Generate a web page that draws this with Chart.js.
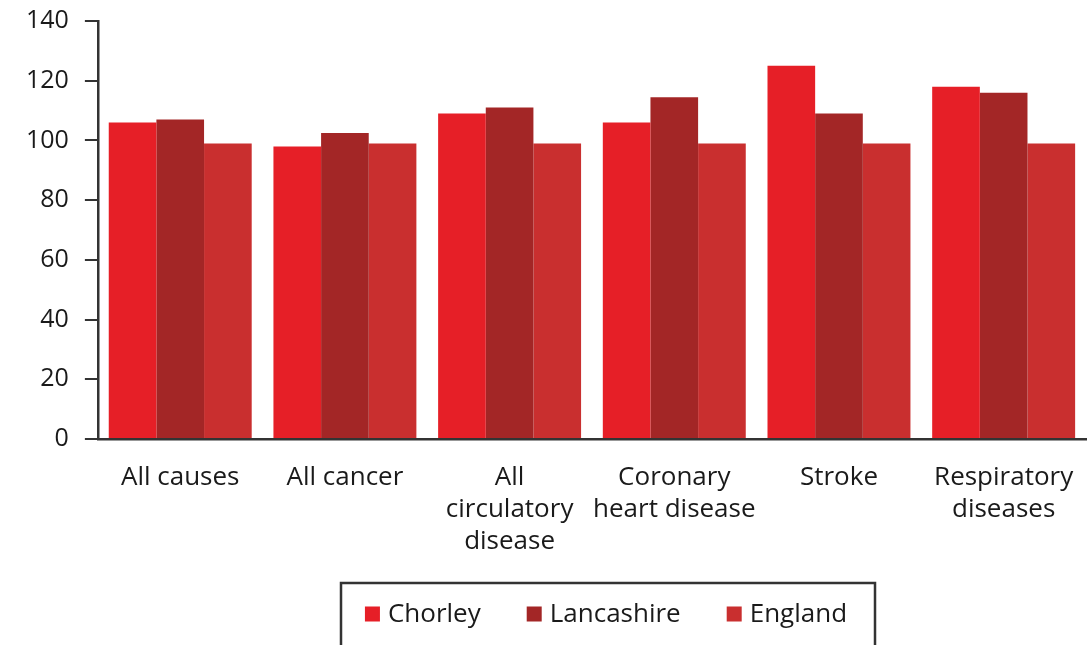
<!DOCTYPE html>
<html>
<head>
<meta charset="utf-8">
<script src="https://cdn.jsdelivr.net/npm/chart.js@4/dist/chart.umd.min.js"></script>
<style>
  html, body { margin: 0; padding: 0; background: #fff; }
  #wrap { width: 1090px; height: 645px; }
</style>
</head>
<body>
<div id="wrap"><canvas id="mortalityChart" width="1090" height="645"></canvas></div>
<script>
const categories = [
    'All causes',
    'All cancer',
    ['All', 'circulatory', 'disease'],
    ['Coronary', 'heart disease'],
    'Stroke',
    ['Respiratory', 'diseases']
];
const chorley = [106, 98, 109, 106, 125, 118];
const lancashire = [107, 102.5, 111, 114.5, 109, 116];
const england = [99, 99, 99, 99, 99, 99];
const yTicks = [0, 20, 40, 60, 80, 100, 120, 140];

const seriesNames = ['Chorley', 'Lancashire', 'England'];
const seriesColors = ['#E61F27', '#A32626', '#C92F2F'];

const FONT = "'Open Sans', sans-serif";
const AXIS = '#333333';

// legend drawn by hand inside a framed box under the axis labels
const boxedLegend = {
    id: 'boxedLegend',
    afterDraw(chart) {
        const ctx = chart.ctx;
        ctx.save();
        ctx.strokeStyle = AXIS;
        ctx.lineWidth = 2.5;
        ctx.strokeRect(341, 583, 534, 100);

        ctx.font = '26px ' + FONT;
        ctx.textBaseline = 'middle';
        const sq = 15, gap = 8, spacing = 46;
        const widths = seriesNames.map(n => ctx.measureText(n).width);
        const total = widths.reduce((a, w) => a + sq + gap + w, 0) + spacing * (seriesNames.length - 1);
        let x = 606 - total / 2;
        const cy = 614;
        seriesNames.forEach((name, i) => {
            ctx.fillStyle = seriesColors[i];
            ctx.fillRect(x, cy - sq / 2, sq, sq);
            ctx.fillStyle = '#1a1a1a';
            ctx.fillText(name, x + sq + gap, cy + 1);
            x += sq + gap + widths[i] + spacing;
        });
        ctx.restore();
    }
};

const ctx = document.getElementById('mortalityChart').getContext('2d');
new Chart(ctx, {
    type: 'bar',
    data: {
        labels: categories,
        datasets: seriesNames.map((name, i) => ({
            label: name,
            data: [chorley, lancashire, england][i],
            backgroundColor: seriesColors[i],
            borderWidth: 0,
            categoryPercentage: 0.868,
            barPercentage: 1.0
        }))
    },
    options: {
        responsive: false,
        animation: false,
        layout: {
            padding: { top: 21, left: 10, right: 4, bottom: 0 }
        },
        plugins: {
            legend: { display: false },
            tooltip: { enabled: false }
        },
        scales: {
            y: {
                min: 0,
                max: 140,
                afterBuildTicks: scale => {
                    scale.ticks = yTicks.map(v => ({ value: v }));
                },
                afterFit: scale => {
                    scale.paddingTop = 0;
                    scale.paddingBottom = 0;
                },
                ticks: {
                    color: '#1a1a1a',
                    padding: 16,
                    font: { family: FONT, size: 25 }
                },
                grid: {
                    drawOnChartArea: false,
                    drawTicks: true,
                    tickLength: 13,
                    color: AXIS,
                    lineWidth: 2
                },
                border: { color: AXIS, width: 2.5 }
            },
            x: {
                afterFit: scale => {
                    scale.height = 206;
                    scale.paddingLeft = 0;
                    scale.paddingRight = 0;
                },
                ticks: {
                    color: '#1a1a1a',
                    padding: 23,
                    maxRotation: 0,
                    autoSkip: false,
                    font: { family: FONT, size: 26, lineHeight: 1.23 }
                },
                grid: { display: false, drawTicks: false },
                border: { color: AXIS, width: 2.5 }
            }
        }
    },
    plugins: [boxedLegend]
});
</script>
</body>
</html>
